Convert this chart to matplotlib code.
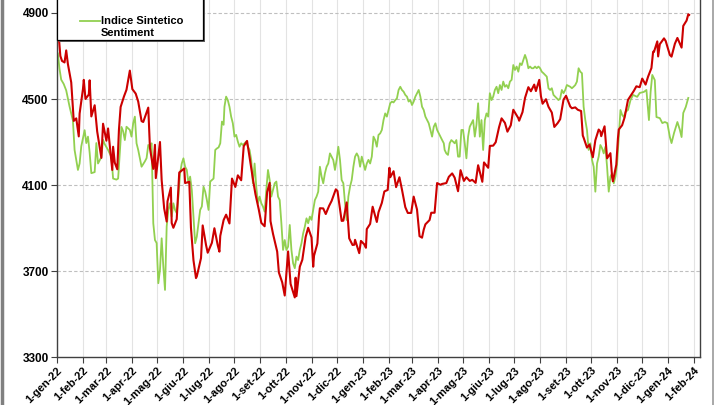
import pandas as pd
import matplotlib
matplotlib.use("Agg")
import matplotlib.pyplot as plt
from matplotlib.lines import Line2D
from matplotlib.patches import Rectangle

plt.rcParams['font.family'] = ['Liberation Sans', 'DejaVu Sans']

# S&P 500 (red)
spx_date = [
    '2022-01-03', '2022-01-05', '2022-01-07', '2022-01-10', '2022-01-12', '2022-01-14', '2022-01-18', '2022-01-21',
    '2022-01-24', '2022-01-27', '2022-01-28', '2022-02-01', '2022-02-02', '2022-02-04', '2022-02-08', '2022-02-09',
    '2022-02-11', '2022-02-15', '2022-02-18', '2022-02-23', '2022-02-25', '2022-03-01', '2022-03-03', '2022-03-08',
    '2022-03-09', '2022-03-11', '2022-03-14', '2022-03-16', '2022-03-18', '2022-03-22', '2022-03-25', '2022-03-29',
    '2022-04-01', '2022-04-05', '2022-04-08', '2022-04-12', '2022-04-14', '2022-04-20', '2022-04-22', '2022-04-26',
    '2022-04-28', '2022-04-29', '2022-05-04', '2022-05-06', '2022-05-09', '2022-05-12', '2022-05-13', '2022-05-17',
    '2022-05-18', '2022-05-20', '2022-05-24', '2022-05-27', '2022-06-02', '2022-06-03', '2022-06-08', '2022-06-10',
    '2022-06-13', '2022-06-16', '2022-06-17', '2022-06-22', '2022-06-24', '2022-06-28', '2022-06-30', '2022-07-05',
    '2022-07-08', '2022-07-12', '2022-07-14', '2022-07-15', '2022-07-19', '2022-07-22', '2022-07-26', '2022-07-29',
    '2022-08-02', '2022-08-05', '2022-08-09', '2022-08-12', '2022-08-16', '2022-08-19', '2022-08-23', '2022-08-26',
    '2022-08-30', '2022-09-02', '2022-09-06', '2022-09-09', '2022-09-12', '2022-09-13', '2022-09-16', '2022-09-21',
    '2022-09-23', '2022-09-27', '2022-09-30', '2022-10-04', '2022-10-07', '2022-10-12', '2022-10-13', '2022-10-14',
    '2022-10-18', '2022-10-21', '2022-10-25', '2022-10-28', '2022-11-01', '2022-11-03', '2022-11-04', '2022-11-08',
    '2022-11-10', '2022-11-11', '2022-11-15', '2022-11-18', '2022-11-22', '2022-11-25', '2022-11-30', '2022-12-02',
    '2022-12-07', '2022-12-09', '2022-12-13', '2022-12-16', '2022-12-20', '2022-12-22', '2022-12-23', '2022-12-28',
    '2022-12-30', '2023-01-03', '2023-01-05', '2023-01-06', '2023-01-10', '2023-01-13', '2023-01-18', '2023-01-20',
    '2023-01-24', '2023-01-27', '2023-01-31', '2023-02-02', '2023-02-03', '2023-02-07', '2023-02-10', '2023-02-14',
    '2023-02-17', '2023-02-21', '2023-02-24', '2023-02-28', '2023-03-03', '2023-03-07', '2023-03-10', '2023-03-13',
    '2023-03-15', '2023-03-17', '2023-03-22', '2023-03-24', '2023-03-28', '2023-03-31', '2023-04-04', '2023-04-06',
    '2023-04-11', '2023-04-14', '2023-04-18', '2023-04-21', '2023-04-25', '2023-04-28', '2023-05-02', '2023-05-05',
    '2023-05-09', '2023-05-12', '2023-05-16', '2023-05-19', '2023-05-24', '2023-05-26', '2023-05-31', '2023-06-02',
    '2023-06-06', '2023-06-09', '2023-06-13', '2023-06-16', '2023-06-20', '2023-06-23', '2023-06-27', '2023-06-30',
    '2023-07-06', '2023-07-07', '2023-07-11', '2023-07-14', '2023-07-18', '2023-07-21', '2023-07-25', '2023-07-27',
    '2023-07-31', '2023-08-02', '2023-08-04', '2023-08-08', '2023-08-11', '2023-08-15', '2023-08-18', '2023-08-22',
    '2023-08-25', '2023-08-29', '2023-09-01', '2023-09-06', '2023-09-08', '2023-09-12', '2023-09-15', '2023-09-19',
    '2023-09-21', '2023-09-22', '2023-09-26', '2023-09-29', '2023-10-03', '2023-10-06', '2023-10-10', '2023-10-12',
    '2023-10-13', '2023-10-17', '2023-10-20', '2023-10-24', '2023-10-26', '2023-10-27', '2023-10-31', '2023-11-02',
    '2023-11-03', '2023-11-07', '2023-11-10', '2023-11-14', '2023-11-17', '2023-11-21', '2023-11-24', '2023-11-28',
    '2023-12-01', '2023-12-05', '2023-12-08', '2023-12-12', '2023-12-14', '2023-12-15', '2023-12-19', '2023-12-20',
    '2023-12-22', '2023-12-27', '2023-12-29', '2024-01-03', '2024-01-05', '2024-01-09', '2024-01-12', '2024-01-17',
    '2024-01-19', '2024-01-23', '2024-01-25', '2024-01-26']
spx_val = [
    4797, 4700, 4677, 4670, 4726, 4663, 4577, 4398, 4410, 4326, 4432, 4546, 4589, 4500, 4521, 4587,
    4419, 4471, 4349, 4226, 4385, 4306, 4363, 4170, 4278, 4204, 4173, 4358, 4463, 4512, 4543, 4632,
    4546, 4525, 4488, 4397, 4393, 4460, 4272, 4175, 4287, 4132, 4300, 4123, 3991, 3930, 4024, 4088,
    3923, 3901, 3941, 4158, 4177, 4109, 4115, 3901, 3750, 3667, 3675, 3760, 3912, 3821, 3785, 3831,
    3899, 3819, 3790, 3863, 3937, 3962, 3921, 4130, 4091, 4145, 4122, 4280, 4305, 4228, 4128, 4058,
    3986, 3924, 3908, 4067, 4110, 3932, 3873, 3790, 3693, 3647, 3586, 3791, 3640, 3577, 3669, 3583,
    3720, 3752, 3859, 3901, 3856, 3720, 3771, 3828, 3956, 3992, 3991, 3965, 4003, 4026, 4080, 4072,
    3933, 3934, 4019, 3852, 3821, 3822, 3845, 3783, 3840, 3824, 3808, 3895, 3919, 3999, 3928, 3973,
    4017, 4070, 4077, 4180, 4136, 4164, 4090, 4136, 4079, 3997, 3970, 3970, 4046, 3986, 3862, 3855,
    3892, 3917, 3937, 3971, 3971, 4109, 4101, 4105, 4109, 4138, 4154, 4134, 4071, 4169, 4119, 4136,
    4119, 4124, 4110, 4192, 4115, 4205, 4180, 4282, 4283, 4299, 4369, 4410, 4389, 4348, 4378, 4450,
    4411, 4399, 4439, 4505, 4555, 4536, 4567, 4537, 4589, 4513, 4478, 4499, 4464, 4437, 4370, 4388,
    4406, 4497, 4515, 4465, 4457, 4461, 4450, 4444, 4330, 4320, 4274, 4288, 4229, 4308, 4358, 4349,
    4327, 4373, 4224, 4248, 4137, 4117, 4194, 4318, 4358, 4378, 4415, 4496, 4514, 4538, 4559, 4555,
    4595, 4567, 4604, 4644, 4720, 4719, 4768, 4698, 4755, 4782, 4770, 4705, 4697, 4757, 4784, 4739,
    4840, 4865, 4894, 4891]

# Indice Sintetico Sentiment (green), days from 1 Jan 2022
sent_day = [
    1, 3, 5, 8, 11, 15, 19, 21, 25, 27, 29, 33, 35, 37, 39, 41, 45, 47, 49, 53, 55, 57, 61, 65, 67, 71, 73, 77,
    79, 81, 83, 87, 89, 91, 93, 95, 97, 101, 105, 107, 109, 111, 113, 114, 115, 117, 119, 121, 123, 125, 127,
    129, 131, 133, 135, 137, 139, 141, 143, 145, 147, 149, 151, 153, 155, 157, 159, 161, 163, 165, 167, 169,
    171, 173, 175, 177, 179, 181, 183, 185, 187, 189, 191, 193, 195, 197, 199, 200, 202, 204, 206, 208, 210,
    212, 214, 216, 218, 220, 222, 224, 226, 228, 230, 232, 234, 236, 238, 240, 242, 244, 246, 248, 250, 252,
    254, 256, 258, 260, 262, 264, 266, 268, 270, 272, 274, 276, 278, 280, 282, 284, 286, 288, 290, 292, 294,
    296, 298, 300, 302, 304, 306, 308, 310, 312, 314, 316, 318, 320, 322, 324, 326, 328, 330, 332, 334, 336,
    338, 340, 342, 344, 346, 348, 350, 352, 354, 356, 358, 360, 362, 364, 366, 368, 370, 372, 374, 376, 378,
    380, 382, 384, 386, 388, 390, 392, 394, 396, 398, 400, 402, 404, 406, 408, 410, 412, 414, 416, 418, 420,
    422, 424, 426, 428, 430, 432, 434, 436, 438, 440, 442, 444, 446, 448, 450, 452, 454, 456, 458, 460, 462,
    463, 465, 467, 469, 471, 473, 475, 477, 479, 481, 483, 485, 487, 489, 491, 493, 495, 497, 499, 501, 503,
    505, 507, 509, 511, 513, 515, 517, 519, 521, 523, 525, 527, 529, 531, 533, 535, 537, 539, 541, 543, 545,
    547, 549, 551, 553, 555, 557, 559, 561, 563, 565, 567, 569, 571, 573, 575, 577, 579, 581, 583, 585, 587,
    589, 591, 593, 595, 597, 599, 601, 603, 605, 607, 609, 611, 613, 615, 617, 619, 621, 623, 625, 627, 629,
    631, 633, 635, 637, 639, 641, 643, 645, 647, 649, 651, 653, 655, 657, 659, 661, 663, 665, 667, 669, 671,
    673, 675, 677, 679, 682, 685, 688, 693, 696, 701, 704, 707, 709, 711, 714, 716, 720, 723, 726, 729, 732,
    734, 737, 741, 744, 746, 748, 751, 754]
sent_val = [
    4712, 4640, 4590, 4570, 4540, 4465, 4400, 4263, 4170, 4200, 4280, 4355, 4295, 4325, 4250, 4155, 4160,
    4295, 4200, 4230, 4310, 4290, 4263, 4230, 4130, 4125, 4130, 4370, 4350, 4309, 4371, 4356, 4325, 4387,
    4418, 4294, 4263, 4185, 4210, 4225, 4286, 4280, 4294, 4108, 3922, 3844, 3830, 3643, 3705, 3852, 3720,
    3612, 3907, 3984, 4015, 3953, 4015, 3984, 3969, 4046, 4154, 4200, 4224, 4185, 4170, 4108, 4139, 4077,
    3953, 3829, 3860, 3922, 3984, 4000, 4092, 4069, 4030, 3984, 4116, 4123, 4130, 4263, 4270, 4275, 4294,
    4395, 4380, 4464, 4511, 4495, 4464, 4418, 4387, 4325, 4333, 4302, 4278, 4294, 4286, 4294, 4302, 4278,
    4263, 4216, 4108, 4200, 4092, 4015, 4046, 4015, 4000, 3976, 4077, 4170, 4123, 4046, 4077, 4108, 4116,
    4046, 4030, 3922, 3798, 3844, 3798, 3813, 3914, 3798, 3736, 3713, 3767, 3751, 3798, 3829, 3875, 3906,
    3945, 3922, 3953, 3938, 3984, 4030, 4046, 4069, 4185, 4139, 4108, 4154, 4185, 4200, 4247, 4232, 4216,
    4170, 4217, 4278, 4217, 4123, 4108, 4015, 3937, 4046, 4092, 4123, 4185, 4232, 4247, 4232, 4185, 4232,
    4200, 4170, 4200, 4217, 4200, 4232, 4325, 4309, 4278, 4333, 4340, 4356, 4402, 4433, 4418, 4449, 4480,
    4488, 4484, 4495, 4503, 4542, 4557, 4542, 4534, 4519, 4511, 4488, 4495, 4472, 4488, 4511, 4527, 4542,
    4511, 4464, 4449, 4418, 4402, 4387, 4356, 4325, 4371, 4387, 4356, 4340, 4325, 4309, 4294, 4263, 4247,
    4240, 4294, 4309, 4302, 4294, 4309, 4232, 4232, 4356, 4356, 4294, 4224, 4325, 4371, 4387, 4402, 4325,
    4380, 4480, 4325, 4402, 4263, 4402, 4433, 4418, 4527, 4495, 4511, 4542, 4557, 4527, 4565, 4542, 4581,
    4557, 4565, 4550, 4581, 4589, 4658, 4635, 4651, 4627, 4666, 4658, 4682, 4705, 4682, 4643, 4651, 4643,
    4643, 4651, 4643, 4651, 4643, 4627, 4620, 4612, 4604, 4550, 4542, 4550, 4519, 4511, 4503, 4495, 4503,
    4542, 4527, 4542, 4565, 4561, 4557, 4550, 4557, 4565, 4581, 4643, 4627, 4620, 4464, 4402, 4356, 4263,
    4294, 4217, 4185, 4069, 4200, 4232, 4286, 4271, 4247, 4278, 4185, 4069, 4139, 4154, 4108, 4139, 4200,
    4325, 4449, 4426, 4416, 4440, 4449, 4495, 4519, 4510, 4528, 4533, 4542, 4402, 4533, 4612, 4588, 4416,
    4411, 4388, 4393, 4388, 4323, 4295, 4342, 4393, 4356, 4323, 4435, 4463, 4505]

mesi = ['gen', 'feb', 'mar', 'apr', 'mag', 'giu', 'lug', 'ago', 'set', 'ott', 'nov', 'dic']
y_ticks = [3300, 3700, 4100, 4500, 4900]

start = pd.Timestamp('2022-01-01')
spx_x = pd.to_datetime(spx_date)
sent_x = start + pd.to_timedelta(sent_day, unit='D')
months = pd.date_range('2022-01-01', '2024-02-01', freq='MS')
month_labels = ['1-%s-%s' % (mesi[m.month - 1], str(m.year)[2:]) for m in months]

fig = plt.figure(figsize=(7.2, 4.05), dpi=100)
ax = fig.add_axes([57 / 720, 1 - 357 / 405, (700 - 57) / 720, 357 / 405])

ax.plot(spx_x, spx_val, color='#CC0000', lw=1.5, zorder=3)
ax.plot(sent_x, sent_val, color='#92D050', lw=1.3, zorder=2)

ax.set_xlim(start, pd.Timestamp('2024-02-08'))
ax.set_ylim(3300, 4900 + 13 * 400 / 86)
ax.set_yticks(y_ticks)
ax.set_yticklabels([str(v) for v in y_ticks], fontsize=8.5, fontweight='bold')
ax.set_xticks(months)
ax.set_xticklabels(month_labels, rotation=45, ha='right', rotation_mode='anchor',
                   fontsize=8, fontweight='bold')
ax.tick_params(axis='both', direction='out', length=4, width=0.8, color='#404040', pad=2)

for v in y_ticks[1:]:
    ax.axhline(v, color='#BFBFBF', lw=0.8, ls=(0, (3, 2)), zorder=1)
for m in months:
    ax.axvline(m, color='#E3E3E3', lw=0.8, zorder=0)

ax.spines['top'].set_visible(False)
for s in ['left', 'bottom', 'right']:
    ax.spines[s].set_color('#404040')
    ax.spines[s].set_linewidth(1.0)

# chart borders
fig.add_artist(Line2D([2 / 720, 2 / 720], [0, 1], color='#808080', lw=2.5))
fig.add_artist(Line2D([713 / 720, 713 / 720], [0, 1], color='#9A9A9A', lw=1.2))

# legend box (top cut off by the figure edge)
lx0, lx1, ly0 = 57 / 720, 203 / 720, 1 - 40 / 405
fig.add_artist(Rectangle((lx0 + 1.5 / 720, ly0 - 1.5 / 405), lx1 - lx0, 0.2, transform=fig.transFigure,
                         facecolor='#606060', edgecolor='none', zorder=9))
fig.add_artist(Rectangle((lx0, ly0), lx1 - lx0, 0.2, transform=fig.transFigure,
                         facecolor='white', edgecolor='black', lw=0.9, zorder=10))
fig.add_artist(Line2D([80 / 720, 100 / 720], [1 + 2 / 405, 1 + 2 / 405], color='#CC0000', lw=1.5, zorder=11))
fig.text(101 / 720, 1 + 3 / 405, 'S&P 500', fontsize=8, fontweight='bold', va='center', zorder=11)
fig.add_artist(Line2D([80 / 720, 100 / 720], [1 - 21 / 405, 1 - 21 / 405], color='#92D050', lw=1.3, zorder=11))
fig.text(101 / 720, 1 - 21 / 405, 'Indice Sintetico', fontsize=8, fontweight='bold', va='center', zorder=11)
fig.text(101 / 720, 1 - 33 / 405, 'Sentiment', fontsize=8, fontweight='bold', va='center', zorder=11)

fig.savefig('out.png', dpi=100)
